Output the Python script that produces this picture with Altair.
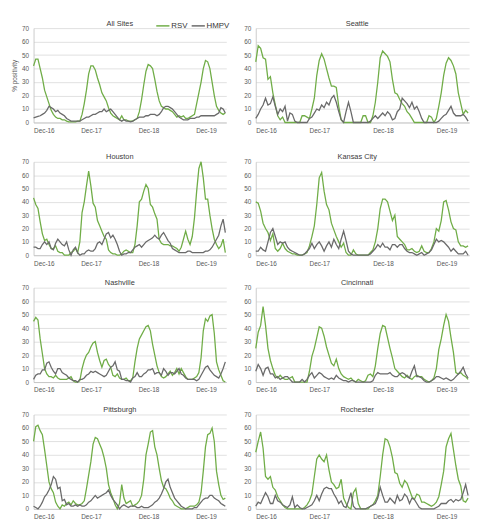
import altair as alt
import pandas as pd

# ---------------- data (bi-weekly points from 1 Dec 2016) ----------------
N = 88
dates = pd.date_range("2016-12-01", periods=N, freq="14D")

all_rsv = [42,47,47,40,33,24,19,14,9,6,
           4,3,3,2,2,1,0.5,0.5,0.5,0.5,
           1,1,6,14,24,36,42,42,39,33,
           28,22,19,16,11,7,5,4,3,2,
           5,2,2,1,1,1,2,3,8,17,
           28,38,43,42,40,32,23,16,12,11,
           10,10,9,8,6,4,5,4,5,3,
           3,4,5,6,14,22,30,40,46,45,
           40,30,20,12,9,7,6,7]
all_hmpv = [3.5,4,4.5,5,6,7,9,12,11,10,
            8,9,7,6,5,3,2,1,1,1,
            1,1,2,3,4,4,5,6,6,7,
            8,8,10,8,9,10,8,6,4,2,
            1,2,1,1,0.5,1,2,3,4,4,
            4,5,5,6,6,6,5,6,8,11,
            12,12,11,10,8,6,4,3,2,2,
            2,3,3,3,4,4,5,5,5,5,
            5,5,5,6,7,11,10,7]

sea_rsv = [45,57,55,48,47,32,34,22,13,5,
           2,4,0,0,0,0,0,0,0,5,
           5,4,3,10,18,35,46,51,47,40,
           33,27,27,26,12,2,0,0,0,0,
           0,0,0,0,5,5,0,0,5,15,
           30,48,53,51,49,45,32,22,21,17,
           14,12,8,6,3,0,0,0,0,0,
           0,5,4,0,3,12,22,35,44,48,
           46,42,36,22,14,6,9,7]
sea_hmpv = [3,6,10,13,18,13,14,19,12,6,
            10,8,12,1,7,6,1,0,0,0,
            0,0,3,4,7,10,9,13,11,15,
            13,18,20,15,8,2,0,8,15,8,
            0,0,0,0,0,0,0,1,3,5,
            3,5,7,5,8,6,2,3,8,10,
            18,16,14,11,15,10,12,8,3,0,
            0,0,0,0,0,1,3,5,6,9,
            12,7,5,5,5,6,4,1]

hou_rsv = [43,38,35,25,16,11,12,8,5,5,
           7,3,2,2,0,0,0,2,3,5,
           2,10,32,40,52,63,52,39,36,26,
           22,18,14,12,4,2,1,1,0,0,
           1,3,4,3,2,2,8,22,40,42,
           48,53,50,38,36,31,27,12,9,8,
           8,8,7,7,6,5,3,6,12,18,
           12,8,14,28,48,65,70,58,42,42,
           30,20,12,8,5,7,12,2]
hou_hmpv = [6,6,5,5,8,10,8,10,5,4,
            9,12,10,8,7,10,4,0,4,6,
            2,0,1,1,3,4,3,3,5,9,
            10,8,12,16,17,13,15,12,8,3,
            0,1,1,2,2,4,6,7,8,6,
            8,10,11,12,13,15,13,12,15,17,
            14,11,9,5,4,3,2,2,2,2,
            3,3,2,2,2,2,2,2,3,3,
            4,6,9,12,15,22,27,17]

kc_rsv = [40,39,33,24,20,17,11,16,5,3,
          5,9,5,3,2,1,1,0,0,0,
          1,2,7,14,22,38,58,62,48,38,
          34,24,19,14,10,6,9,2,0,0,
          4,1,0,0,0,0,0,2,4,10,
          20,35,42,42,40,33,26,30,14,12,
          10,8,4,4,5,3,2,3,7,3,
          2,2,5,10,20,18,26,40,41,34,
          25,20,19,10,7,7,6,7]
kc_hmpv = [3,3,6,4,3,10,17,20,14,8,
           10,9,10,6,4,3,2,1,0,0,
           1,3,5,9,5,8,10,7,3,7,
           10,6,12,8,5,12,18,11,3,1,
           0,0,0,0,0,0,0,1,3,5,
           8,6,9,6,6,4,8,8,6,8,
           8,5,3,2,2,1,0,1,2,0,
           1,2,4,8,12,10,11,10,8,6,
           3,5,3,1,1,1,3,0]

nas_rsv = [45,48,46,32,21,10,6,4,4,3,
           5,3,2,2,2,2,3,4,1,0,
           0,1,10,16,20,22,26,29,30,22,
           16,11,16,17,13,11,5,4,6,3,
           2,2,3,1,1,3,15,25,32,35,
           38,41,42,38,28,20,12,7,4,3,
           4,6,8,5,7,10,6,10,7,4,
           2,2,2,3,4,7,18,38,47,45,
           49,50,36,15,9,5,1,0]
nas_hmpv = [2,5,6,6,9,9,14,15,11,8,
            6,10,10,7,6,5,3,2,1,1,
            0,2,2,3,5,6,8,7,8,7,
            6,5,4,5,8,11,12,15,9,8,
            2,2,1,1,0,3,4,7,4,4,
            6,7,9,9,10,6,7,7,5,10,
            8,5,7,7,6,8,10,6,5,3,
            2,2,2,2,1,2,5,8,11,12,
            9,7,5,4,3,6,10,15]

cin_rsv = [25,37,42,56,42,25,16,10,5,3,
           5,3,2,2,3,4,0,0,0,0,
           0,0,8,19,25,33,41,40,34,26,
           20,14,12,17,10,6,4,3,2,3,
           1,0,2,1,0,1,5,6,4,12,
           25,36,42,41,33,25,18,10,8,6,
           4,3,5,3,2,4,5,4,4,2,
           1,0,1,3,10,24,32,42,50,45,
           33,22,7,6,7,5,4,2]
cin_hmpv = [8,13,10,5,10,11,6,6,3,4,
            2,3,4,4,2,0,0,0,0,2,
            0,2,5,7,3,5,7,6,4,3,
            2,3,2,5,3,2,1,1,0,1,
            1,0,0,0,0,0,0,0,1,5,
            7,6,6,6,6,7,5,4,4,6,
            7,6,4,3,8,12,4,4,3,1,
            0,0,1,2,4,4,3,2,3,2,
            1,2,4,6,8,11,6,3]

pit_rsv = [50,61,62,58,55,44,32,20,15,12,
           5,2,0,3,2,4,5,3,6,4,
           3,3,4,6,15,25,35,48,53,52,
           48,44,38,30,18,12,8,3,0,4,
           18,8,4,5,6,2,3,4,6,10,
           22,40,48,57,58,46,40,30,21,16,
           15,12,8,6,3,2,1,0,0,0,
           1,2,2,2,3,5,12,28,46,55,
           56,60,50,28,18,10,7,8]
pit_hmpv = [2,1,0,2,5,9,11,14,18,24,
            22,15,16,6,7,3,4,2,2,3,
            2,3,2,2,3,5,6,8,10,8,
            9,10,11,12,14,10,7,5,3,0,
            2,3,2,1,2,2,2,1,1,2,
            1,1,1,2,3,5,6,8,11,15,
            20,22,16,12,8,6,4,2,1,0,
            0,0,0,1,1,3,5,7,8,8,
            10,10,8,7,6,4,3,2]

roc_rsv = [42,50,57,45,24,22,24,16,14,9,
           6,3,1,0,0,0,0,0,0,0,
           1,3,6,11,24,37,40,37,35,40,
           29,20,18,15,16,22,8,4,1,0,
           12,15,4,0,0,0,0,2,3,6,
           10,24,40,52,51,46,38,27,26,19,
           16,21,19,14,9,7,11,10,5,5,
           4,3,2,3,5,9,18,28,46,52,
           56,44,32,22,17,6,5,8]
roc_hmpv = [2,5,4,8,12,9,4,4,10,6,
            5,3,2,1,3,9,1,3,1,0,
            0,1,2,3,6,10,6,11,15,16,
            15,15,11,8,4,6,2,1,6,12,
            2,0,0,0,0,0,1,2,3,4,
            8,16,10,5,5,8,6,4,10,6,
            7,11,9,4,8,7,4,1,0,0,
            0,0,0,0,1,2,4,4,4,6,
            7,5,7,6,7,12,18,10]

series_names = ["RSV", "HMPV"]
y_ticks = [0, 10, 20, 30, 40, 50, 60, 70]
x_tick_years = [2016, 2017, 2018, 2019]

# ---------------- styling ----------------
FONT = "Liberation Sans"
GREEN = "#70AD47"
GRAY = "#6a6a6a"
LABEL = "#595959"

x_domain = [alt.DateTime(year=2016, month=12, date=1),
            alt.DateTime(year=2020, month=4, date=8)]
x_vals = [alt.DateTime(year=y, month=12, date=1) for y in x_tick_years]


def panel(site, rsv, hmpv, width, height, left_col, show_ytitle=False, legend=False):
    assert len(rsv) == N and len(hmpv) == N, site
    df = pd.DataFrame({
        "date": list(dates) * 2,
        "value": list(rsv) + list(hmpv),
        "series": ["RSV"] * N + ["HMPV"] * N,
        "ord": [0] * N + [1] * N,
    })
    if legend:
        leg = alt.Legend(title=None, orient="none", direction="horizontal",
                         legendX=124, legendY=-10,
                         symbolType="stroke", symbolSize=180, symbolStrokeWidth=1.5,
                         labelFont=FONT, labelFontSize=8, labelColor="#333333",
                         columnPadding=0, labelOffset=1, padding=0)
    else:
        leg = None
    y_axis = alt.Axis(values=y_ticks, grid=True, gridColor="#d9d9d9", gridWidth=0.8,
                      domainColor="#bfbfbf", domainWidth=0.8, ticks=False,
                      labelFont=FONT, labelFontSize=6.5, labelColor=LABEL, labelPadding=5,
                      title="% positivity" if left_col else None,
                      titleFont=FONT, titleFontSize=6.5, titleFontWeight="normal",
                      titleColor=LABEL if show_ytitle else "transparent",
                      titlePadding=4)
    x_axis = alt.Axis(values=x_vals, format="%b-%y", grid=False, ticks=False,
                      domainColor="#bfbfbf", domainWidth=0.8,
                      labelFont=FONT, labelFontSize=6.5, labelColor=LABEL,
                      labelPadding=5, labelOverlap=False, title=None)
    return alt.Chart(df).mark_line(strokeWidth=1.3).encode(
        x=alt.X("date:T", scale=alt.Scale(domain=x_domain, nice=False), axis=x_axis),
        y=alt.Y("value:Q", scale=alt.Scale(domain=[0, 70], nice=False), axis=y_axis),
        color=alt.Color("series:N", scale=alt.Scale(domain=series_names, range=[GREEN, GRAY]),
                        legend=leg),
        order=alt.Order("ord:Q"),
        detail="series:N",
    ).properties(
        width=width, height=height,
        title=alt.TitleParams(site, font=FONT, fontSize=7.5, fontWeight="normal",
                              color="#3a3a3a", frame="bounds", anchor="middle", offset=-2),
    )


LW, RW = 196, 217
rows = [
    (("All Sites", all_rsv, all_hmpv), ("Seattle", sea_rsv, sea_hmpv), 96),
    (("Houston", hou_rsv, hou_hmpv), ("Kansas City", kc_rsv, kc_hmpv), 95),
    (("Nashville", nas_rsv, nas_hmpv), ("Cincinnati", cin_rsv, cin_hmpv), 96),
    (("Pittsburgh", pit_rsv, pit_hmpv), ("Rochester", roc_rsv, roc_hmpv), 96),
]

row_charts = []
for i, (l, r, h) in enumerate(rows):
    left = panel(l[0], l[1], l[2], LW, h, True, show_ytitle=(i == 0), legend=(i == 0))
    right = panel(r[0], r[1], r[2], RW, h, False)
    row_charts.append(alt.hconcat(left, right, spacing=15))

inner = alt.vconcat(*row_charts[1:], spacing=12)
chart = alt.vconcat(row_charts[0], inner, spacing=19).properties(
    padding={"left": 3, "top": 6, "right": 5, "bottom": 3},
    background="white",
).configure_view(stroke=None).configure_title(fontWeight="normal")

chart.save("out.html", embed_options={"renderer": "svg", "actions": False})
